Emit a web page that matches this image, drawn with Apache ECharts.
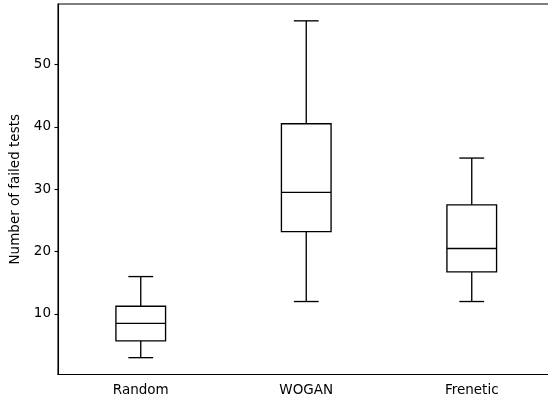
<!DOCTYPE html>
<html>
<head>
<meta charset="utf-8">
<script src="https://cdn.jsdelivr.net/npm/echarts@6/dist/echarts.min.js"></script>
<style>html,body{margin:0;padding:0;background:#fff;}#c{width:548px;height:400px;}</style>
</head>
<body>
<div id="c"></div>
<script>
const categories = ['Random', 'WOGAN', 'Frenetic'];
const whiskerLow = [3, 12, 12];
const q1 = [5.7, 23.2, 16.75];
const median = [8.5, 29.5, 20.5];
const q3 = [11.25, 40.5, 27.5];
const whiskerHigh = [16, 57, 35];
const yTicks = [10, 20, 30, 40, 50];

const data = categories.map((c, i) => [i, whiskerLow[i], q1[i], median[i], q3[i], whiskerHigh[i]]);
const FONT = 'DejaVu Sans';

const chart = echarts.init(document.getElementById('c'), null, {renderer: 'canvas'});
chart.setOption({
  animation: false,
  backgroundColor: '#fff',
  grid: {left: 58, top: 4, width: 496.5, height: 370.5, outerBoundsMode: 'none', containLabel: false, show: true, borderColor: '#000', borderWidth: 1.1, backgroundColor: 'transparent'},
  xAxis: {
    type: 'category',
    data: categories,
    boundaryGap: true,
    axisLine: {lineStyle: {color: '#000', width: 1.1}},
    axisTick: {alignWithLabel: true, length: 3.5, lineStyle: {color: '#000', width: 1.1}},
    axisLabel: {color: '#000', fontSize: 13.5, fontFamily: FONT, margin: 9},
    splitLine: {show: false}
  },
  yAxis: {
    type: 'value',
    min: 0.3,
    max: 59.7,
    name: 'Number of failed tests',
    nameLocation: 'middle',
    nameGap: 32,
    nameTextStyle: {color: '#000', fontSize: 13.5, fontFamily: FONT},
    axisLine: {show: true, lineStyle: {color: '#000', width: 1.1}},
    axisTick: {show: true, length: 3.5, customValues: yTicks, lineStyle: {color: '#000', width: 1.1}},
    axisLabel: {color: '#000', fontSize: 13.5, fontFamily: FONT, margin: 7, customValues: yTicks},
    splitLine: {show: false}
  },
  series: [{
    type: 'custom',
    data: data,
    encode: {x: 0, y: [1, 2, 3, 4, 5]},
    renderItem: function (params, api) {
      const idx = api.value(0);
      const band = api.size([1, 0])[0];
      const cx = api.coord([idx, 0])[0];
      const hw = band * 0.15;
      const cw = band * 0.075;
      const yLo = api.coord([idx, api.value(1)])[1];
      const yQ1 = api.coord([idx, api.value(2)])[1];
      const yMed = api.coord([idx, api.value(3)])[1];
      const yQ3 = api.coord([idx, api.value(4)])[1];
      const yHi = api.coord([idx, api.value(5)])[1];
      const st = {stroke: '#000', lineWidth: 1.35, fill: null};
      return {
        type: 'group',
        children: [
          {type: 'rect', shape: {x: cx - hw, y: yQ3, width: 2 * hw, height: yQ1 - yQ3}, style: {stroke: '#000', lineWidth: 1.35, fill: 'none'}},
          {type: 'line', shape: {x1: cx - hw, y1: yMed, x2: cx + hw, y2: yMed}, style: st},
          {type: 'line', shape: {x1: cx, y1: yQ1, x2: cx, y2: yLo}, style: st},
          {type: 'line', shape: {x1: cx, y1: yQ3, x2: cx, y2: yHi}, style: st},
          {type: 'line', shape: {x1: cx - cw, y1: yLo, x2: cx + cw, y2: yLo}, style: st},
          {type: 'line', shape: {x1: cx - cw, y1: yHi, x2: cx + cw, y2: yHi}, style: st}
        ]
      };
    }
  }]
});
</script>
</body>
</html>
